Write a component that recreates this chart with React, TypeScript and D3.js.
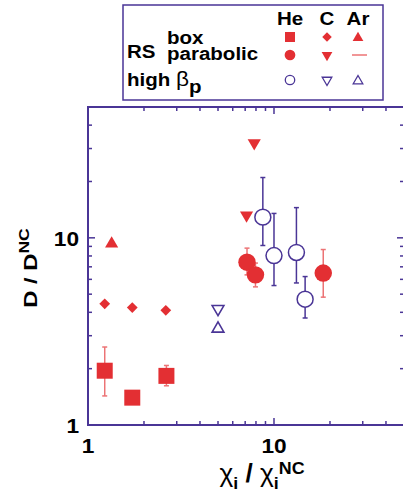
import React, { useEffect, useRef } from "react";
import * as d3 from "d3";

const RED = "#e32f33";
const PINK = "#ec7375";
const PURPLE = "#4a3596";

// RS box, He (squares)
const heBoxX = [1.23, 1.73, 2.64];
const heBoxY = [1.95, 1.4, 1.83];
const heBoxLo = [1.43, NaN, 1.62];
const heBoxHi = [2.61, NaN, 2.08];
// RS box, C (diamonds)
const cBoxX = [1.23, 1.73, 2.62];
const cBoxY = [4.44, 4.24, 4.1];
// RS box, Ar (triangle up)
const arBoxX = [1.34];
const arBoxY = [9.3];
// RS parabolic, He (filled circles)
const heParX = [7.16, 7.95, 18.4];
const heParY = [7.41, 6.34, 6.48];
const heParLo = [6.34, 5.47, 4.82];
const heParHi = [8.81, 7.33, 8.66];
// RS parabolic, C (triangle down)
const cParX = [7.83, 7.12];
const cParY = [32.1, 13.2];
// high beta_p, He (open circles)
const heHbX = [8.71, 10, 13.2, 14.7];
const heHbY = [12.9, 8.04, 8.35, 4.7];
const heHbLo = [9.1, 5.56, 5.74, 3.73];
const heHbHi = [21.0, 13.5, 14.5, 6.21];
// high beta_p, C (open triangle down) and Ar (open triangle up)
const cHbX = [5.0];
const cHbY = [4.17];
const arHbX = [5.0];
const arHbY = [3.27];

const xTicksLabeled = [1, 10];
const yTicksLabeled = [1, 10];

const W = 403;
const H = 492;
const margin = { left: 88, right: -1, top: 107, bottom: 67 };
const font = "Liberation Sans, Arial, sans-serif";
const SX = 1.08; // the original lettering is a bit wider than Arial

export default function App() {
  const ref = useRef<SVGSVGElement>(null);

  useEffect(() => {
    const svg = d3.select(ref.current);
    svg.selectAll("*").remove();

    const x = d3.scaleLog().domain([1, 50]).range([margin.left, W - margin.right]);
    const y = d3.scaleLog().domain([1, 50]).range([H - margin.bottom, margin.top]);
    const x0 = x.range()[0], x1 = x.range()[1];
    const y0 = y.range()[0], y1 = y.range()[1];

    const g = svg.append("g");

    const txt = (parent: any, tx: number, ty: number, s: string, size: number, anchor = "start", rot = 0) =>
      parent.append("text")
        .attr("transform", `translate(${tx},${ty}) rotate(${rot}) scale(${SX},1)`)
        .attr("text-anchor", anchor).attr("font-family", font)
        .attr("font-weight", "bold").attr("font-size", size).text(s);

    // ticks (inward on all four sides)
    const isMajor = (v: number) => Math.abs(Math.log10(v) - Math.round(Math.log10(v))) < 1e-6;
    x.ticks().forEach((v) => {
      const len = isMajor(v) ? 7 : 4;
      g.append("line").attr("x1", x(v)).attr("x2", x(v)).attr("y1", y0).attr("y2", y0 - len)
        .attr("stroke", PURPLE).attr("stroke-width", 1.5);
      g.append("line").attr("x1", x(v)).attr("x2", x(v)).attr("y1", y1).attr("y2", y1 + len)
        .attr("stroke", PURPLE).attr("stroke-width", 1.5);
    });
    y.ticks().forEach((v) => {
      const len = isMajor(v) ? 7 : 4;
      g.append("line").attr("y1", y(v)).attr("y2", y(v)).attr("x1", x0).attr("x2", x0 + len)
        .attr("stroke", PURPLE).attr("stroke-width", 1.5);
      g.append("line").attr("y1", y(v)).attr("y2", y(v)).attr("x1", x1).attr("x2", x1 - len)
        .attr("stroke", PURPLE).attr("stroke-width", 1.5);
    });
    g.append("rect").attr("x", x0).attr("y", y1).attr("width", x1 - x0).attr("height", y0 - y1)
      .attr("fill", "none").attr("stroke", PURPLE).attr("stroke-width", 2);

    // tick labels
    xTicksLabeled.forEach((v) => txt(g, x(v), 453, String(v), 21, "middle"));
    yTicksLabeled.forEach((v) => txt(g, 79, y(v) + 8, String(v), 21, "end"));

    // axis titles
    const xt = g.append("text").attr("transform", `translate(262,482) scale(1.05,1)`)
      .attr("text-anchor", "middle").attr("font-family", font).attr("font-size", 25);
    xt.append("tspan").text("χ");
    xt.append("tspan").attr("dy", 7).attr("font-size", 17).attr("font-weight", "bold").text("i");
    xt.append("tspan").attr("dy", -7).attr("font-weight", "bold").text(" / ");
    xt.append("tspan").text("χ");
    xt.append("tspan").attr("dy", 7).attr("font-size", 17).attr("font-weight", "bold").text("i");
    xt.append("tspan").attr("dy", -15).attr("font-size", 17).attr("font-weight", "bold").text("NC");

    const yt = g.append("text").attr("transform", `translate(37,268) rotate(-90) scale(1.25,1)`)
      .attr("text-anchor", "middle").attr("font-family", font).attr("font-weight", "bold").attr("font-size", 19);
    yt.append("tspan").text("D / D");
    yt.append("tspan").attr("dy", -8).attr("font-size", 14).text("NC");

    // error bars
    const errBars = (xs: number[], lo: number[], hi: number[], color: string) => {
      xs.forEach((xv, i) => {
        if (isNaN(lo[i])) return;
        const px = x(xv);
        g.append("line").attr("x1", px).attr("x2", px).attr("y1", y(lo[i])).attr("y2", y(hi[i]))
          .attr("stroke", color).attr("stroke-width", 1.5);
        [lo[i], hi[i]].forEach((v) => {
          g.append("line").attr("x1", px - 2.5).attr("x2", px + 2.5).attr("y1", y(v)).attr("y2", y(v))
            .attr("stroke", color).attr("stroke-width", 1.5);
        });
      });
    };
    errBars(heBoxX, heBoxLo, heBoxHi, PINK);
    errBars(heParX, heParLo, heParHi, PINK);
    errBars(heHbX, heHbLo, heHbHi, PURPLE);

    const sym = (type: d3.SymbolType, size: number) => d3.symbol().type(type).size(size)();
    const draw = (xs: number[], ys: number[], path: string | null, fill: string, stroke: string, sw = 0, rot = 0) => {
      xs.forEach((xv, i) => {
        g.append("path").attr("d", path)
          .attr("transform", `translate(${x(xv)},${y(ys[i])}) rotate(${rot})`)
          .attr("fill", fill).attr("stroke", stroke).attr("stroke-width", sw);
      });
    };
    draw(heBoxX, heBoxY, sym(d3.symbolSquare, 256), RED, "none");
    draw(cBoxX, cBoxY, sym(d3.symbolSquare, 58), RED, "none", 0, 45);
    draw(arBoxX, arBoxY, sym(d3.symbolTriangle, 75), RED, "none");
    draw(heParX, heParY, sym(d3.symbolCircle, 240), RED, "none");
    draw(cParX, cParY, sym(d3.symbolTriangle, 75), RED, "none", 0, 180);
    draw(heHbX, heHbY, sym(d3.symbolCircle, 200), "white", PURPLE, 1.5);
    draw(cHbX, cHbY, sym(d3.symbolTriangle, 60), "white", PURPLE, 1.6, 180);
    draw(arHbX, arHbY, sym(d3.symbolTriangle, 60), "white", PURPLE, 1.6);

    // legend
    const lg = svg.append("g");
    lg.append("rect").attr("x", 123).attr("y", 5).attr("width", 260).attr("height", 95)
      .attr("fill", "white").attr("stroke", PURPLE).attr("stroke-width", 1.5);
    txt(lg, 290, 25, "He", 19, "middle");
    txt(lg, 327, 25, "C", 19, "middle");
    txt(lg, 358, 25, "Ar", 19, "middle");
    txt(lg, 127, 58, "RS", 19);
    txt(lg, 167, 44, "box", 19);
    txt(lg, 167, 60, "parabolic", 19);
    const hb = txt(lg, 127, 86, "high ", 19);
    hb.append("tspan").attr("font-weight", "normal").attr("font-size", 21).text("β");
    hb.append("tspan").attr("dy", 7).text("p");

    const ls = (px: number, py: number, path: string | null, fill: string, stroke: string, sw = 0, rot = 0) =>
      lg.append("path").attr("d", path).attr("transform", `translate(${px},${py}) rotate(${rot})`)
        .attr("fill", fill).attr("stroke", stroke).attr("stroke-width", sw);
    ls(290, 37, sym(d3.symbolSquare, 100), RED, "none");
    ls(327, 37, sym(d3.symbolSquare, 45), RED, "none", 0, 45);
    ls(358, 38, sym(d3.symbolTriangle, 50), RED, "none");
    ls(290, 55, sym(d3.symbolCircle, 90), RED, "none");
    ls(327, 55, sym(d3.symbolTriangle, 50), RED, "none", 0, 180);
    lg.append("line").attr("x1", 352).attr("x2", 367).attr("y1", 55).attr("y2", 55)
      .attr("stroke", PINK).attr("stroke-width", 1.5);
    ls(290, 80, sym(d3.symbolCircle, 70), "white", PURPLE, 1.3);
    ls(327, 80, sym(d3.symbolTriangle, 40), "white", PURPLE, 1.3, 180);
    ls(358, 81, sym(d3.symbolTriangle, 40), "white", PURPLE, 1.3);
  }, []);

  return (
    <svg ref={ref} width={W} height={H}
      style={{ position: "absolute", left: 0, top: 0, background: "white" }} />
  );
}
